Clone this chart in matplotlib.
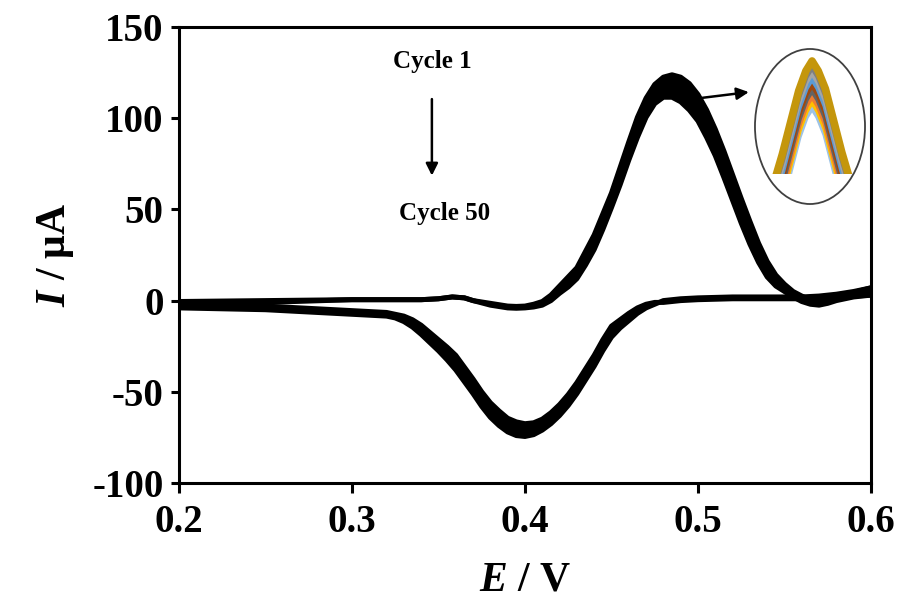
import matplotlib
matplotlib.use('Agg')
import matplotlib.pyplot as plt
from matplotlib.patches import Ellipse

plt.rcParams['font.family'] = ['Liberation Serif', 'DejaVu Serif']
plt.rcParams['font.weight'] = 'bold'
plt.rcParams['axes.unicode_minus'] = False
plt.rcParams['mathtext.fontset'] = 'custom'
plt.rcParams['mathtext.it'] = 'Liberation Serif:italic:bold'
plt.rcParams['mathtext.rm'] = 'Liberation Serif:bold'

# forward scan (anodic), cycle 1 and cycle 50
E_fwd = [0.20, 0.25, 0.30, 0.34, 0.35, 0.358, 0.365, 0.37, 0.38, 0.39, 0.395,
         0.40, 0.405, 0.41, 0.415, 0.42, 0.425, 0.43, 0.435, 0.44, 0.445,
         0.45, 0.455, 0.46, 0.465, 0.47, 0.475, 0.48, 0.485, 0.49, 0.495,
         0.50, 0.505, 0.51, 0.515, 0.52, 0.525, 0.53, 0.535, 0.54, 0.545,
         0.55, 0.555, 0.56, 0.565, 0.57, 0.575, 0.58, 0.59, 0.60]
I_fwd_c1 = [-0.5, 0, 0.5, 0.5, 1, 2, 1.5, 0, -1.5, -3, -3.2,
            -3, -2, -0.5, 3, 8, 13, 18, 27, 36, 47.5,
            59, 73, 87, 100.5, 111, 118.5, 122.5, 123.8, 122.5, 119,
            113, 104.5, 94, 82, 69, 56, 43.5, 31.5, 21.5, 14,
            9, 5, 2.5, 0.5, 0, 1, 2.5, 4.5, 7]
I_fwd_c50 = [-1.5, -1, 0.5, 0.5, 1, 2, 1.5, 0, -2.5, -4, -4.2,
             -4, -3.5, -2.5, 0, 4, 7.5, 12, 19.5, 28, 39,
             51, 63.5, 77, 89.5, 100.5, 108, 111.5, 111.5, 109, 104.5,
             98.5, 89.5, 79.5, 67.5, 55, 42.5, 31, 21, 13, 8,
             5, 2, -0.5, -2, -2.5, -1.5, 0, 2, 3]

# reverse scan (cathodic), cycle 1 and cycle 50
E_rev = [0.60, 0.59, 0.58, 0.57, 0.56, 0.54, 0.52, 0.50, 0.49, 0.485, 0.48,
         0.475, 0.47, 0.465, 0.46, 0.455, 0.45, 0.445, 0.44, 0.435, 0.43,
         0.425, 0.42, 0.415, 0.41, 0.405, 0.40, 0.395, 0.39, 0.385, 0.38,
         0.375, 0.37, 0.365, 0.36, 0.355, 0.35, 0.345, 0.34, 0.335, 0.33,
         0.325, 0.32, 0.31, 0.30, 0.27, 0.25, 0.20]
I_rev_c1 = [7, 5, 3.5, 2.5, 2, 2, 2, 1.5, 1, 0.5, 0,
            -2, -4, -7, -11, -15, -20, -27.5, -36, -43.5, -51,
            -57.5, -63, -67.5, -71, -73.5, -74.5, -74, -72, -68.5, -64,
            -58, -51, -44.5, -38, -32.5, -27.5, -23, -18.5, -14.5, -11.5,
            -9.5, -8.5, -8, -7.5, -6, -5, -4]
I_rev_c50 = [3, 2.5, 2, 1.5, 1, 1, 1, 0.5, 0, -0.5, -1,
             -1, -2, -4, -7, -10.5, -14, -21.5, -30, -37.5, -45,
             -51.5, -57, -61.5, -65, -67, -67.5, -66.5, -64.5, -60.5, -56,
             -50, -43, -36.5, -30, -25.5, -21.5, -17.5, -13.5, -10.5, -8.5,
             -7.5, -6.5, -6, -5.5, -4, -3, -2]

# inset: close-up of the anodic peak for several cycles (outer -> inner)
inset_E = [0.467, 0.471, 0.475, 0.479, 0.4825, 0.4855, 0.4885, 0.492, 0.496, 0.500, 0.504]
inset_I = [
    [98.0, 105.0, 113.0, 121.0, 126.0, 128.5, 126.0, 121.5, 113.5, 105.5, 98.5],
    [96.6, 103.6, 111.6, 119.6, 124.6, 127.1, 124.6, 120.1, 112.1, 104.1, 97.1],
    [95.2, 102.2, 110.2, 118.2, 123.2, 125.7, 123.2, 118.7, 110.7, 102.7, 95.7],
    [93.7, 100.7, 108.7, 116.7, 121.7, 124.2, 121.7, 117.2, 109.2, 101.2, 94.2],
    [92.2, 99.2, 107.2, 115.2, 120.2, 122.7, 120.2, 115.7, 107.7, 99.7, 92.7],
    [90.8, 97.8, 105.8, 113.8, 118.8, 121.3, 118.8, 114.3, 106.3, 98.3, 91.3],
    [89.3, 96.3, 104.3, 112.3, 117.3, 119.8, 117.3, 112.8, 104.8, 96.8, 89.8],
    [87.9, 94.9, 102.9, 110.9, 115.9, 118.4, 115.9, 111.4, 103.4, 95.4, 88.4],
    [86.4, 93.4, 101.4, 109.4, 114.4, 116.9, 114.4, 109.9, 101.9, 93.9, 86.9],
]
inset_colors = ['#C4960C', '#7F7F7F', '#A5A5A5', '#5B9BD5', '#9E480E',
                '#636363', '#ED7D31', '#FFC000', '#9DC3E6']

fig = plt.figure(figsize=(9.02, 6.07), dpi=100)
ax = fig.add_axes([0.1984, 0.2043, 0.7672, 0.7512])

# the 50 cycles form a thick black band between cycle 1 and cycle 50
ax.fill_between(E_fwd, I_fwd_c1, I_fwd_c50, color='black', lw=0)
ax.fill_between(E_rev, I_rev_c1, I_rev_c50, color='black', lw=0)
for E, I in [(E_fwd, I_fwd_c1), (E_fwd, I_fwd_c50), (E_rev, I_rev_c1), (E_rev, I_rev_c50)]:
    ax.plot(E, I, color='black', lw=3.6, solid_joinstyle='round')

ax.set_xlim(0.2, 0.6)
ax.set_ylim(-100, 150)
ax.set_xticks([0.2, 0.3, 0.4, 0.5, 0.6])
ax.set_xticklabels(['0.2', '0.3', '0.4', '0.5', '0.6'])
ax.set_yticks([-100, -50, 0, 50, 100, 150])
for s in ax.spines.values():
    s.set_linewidth(2.2)
ax.tick_params(axis='both', direction='out', width=2.2, labelsize=28)
ax.tick_params(axis='x', length=7, pad=8)
ax.tick_params(axis='y', length=6, pad=5)

ax.set_xlabel(r'$E$ / V', fontsize=30, fontweight='bold', labelpad=15)
ax.set_ylabel(r'$I$ / μA', fontsize=30, fontweight='bold', labelpad=12)

# cycle annotation
ax.text(0.3462, 131, 'Cycle 1', ha='center', va='center', fontsize=18)
ax.text(0.3538, 48, 'Cycle 50', ha='center', va='center', fontsize=18)
ax.annotate('', xy=(0.3462, 67), xytext=(0.3462, 112),
            arrowprops=dict(arrowstyle='-|>', color='black', lw=1.8,
                            mutation_scale=18))
ax.annotate('', xy=(0.531, 114.5), xytext=(0.501, 111),
            arrowprops=dict(arrowstyle='-|>', color='black', lw=1.8,
                            mutation_scale=18))

# inset close-up of the peak, outer (cycle 1, gold) drawn last
ins = fig.add_axes([0.8537, 0.7133, 0.0909, 0.196])
for I, c in reversed(list(zip(inset_I, inset_colors))):
    ins.plot(inset_E, I, color=c, lw=5.5 if c == '#C4960C' else 4.2,
             solid_joinstyle='round')
ins.set_xlim(0.465, 0.505)
ins.set_ylim(100, 130)
ins.axis('off')

fig.add_artist(Ellipse((0.898, 0.7916), 0.122, 0.2554, transform=fig.transFigure,
                       fill=False, edgecolor='#404040', lw=1.3))

fig.savefig('out.png', dpi=100)
